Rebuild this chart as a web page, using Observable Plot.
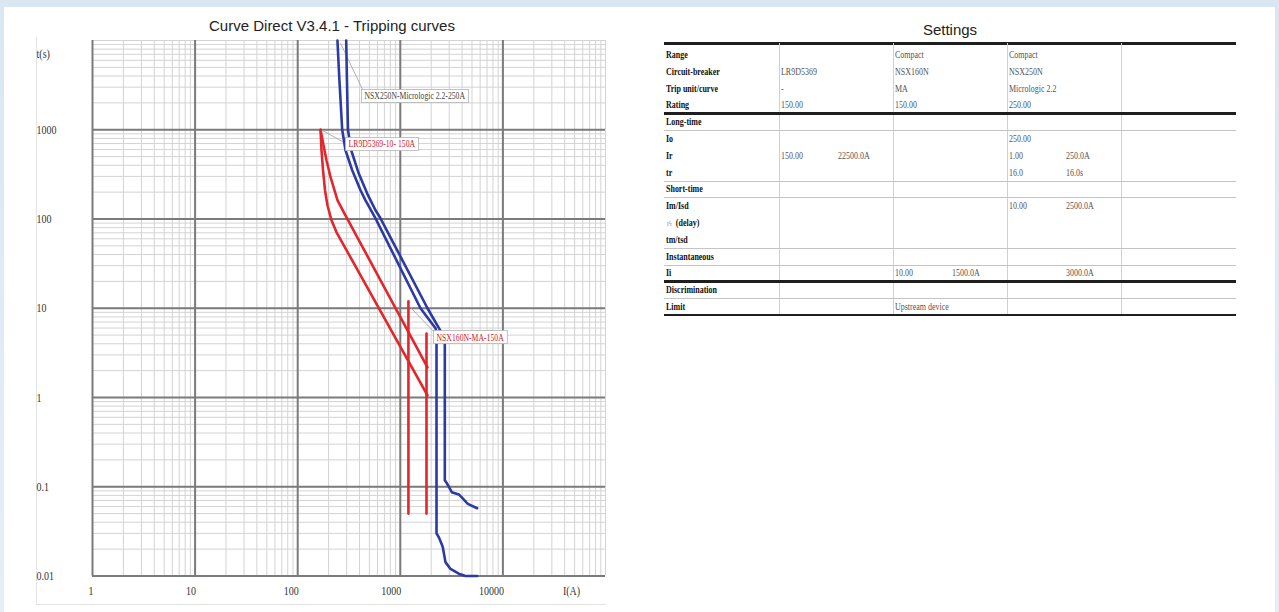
<!DOCTYPE html>
<html>
<head>
<meta charset="utf-8">
<script src="https://cdn.jsdelivr.net/npm/d3@7"></script>
<script src="https://cdn.jsdelivr.net/npm/@observablehq/plot@0.6"></script>
<style>
  html, body { margin: 0; padding: 0; }
  body {
    width: 1279px; height: 612px; overflow: hidden; position: relative;
    background: linear-gradient(180deg, #d9e7f3 0%, #e4eef7 100%);
    font-family: "Liberation Sans", Arial, sans-serif;
  }
  #panel { position: absolute; left: 4px; top: 7px; width: 1271px; height: 605px; background: #fff; }
  #frame { position: absolute; left: 36px; top: 37px; width: 569px; height: 567px;
           border-left: 1px solid #e3e3e3; border-bottom: 1px solid #e3e3e3; }
  #chart { position: absolute; left: 0; top: 0; }
  .heading { position: absolute; font-size: 15px; color: #222; white-space: nowrap;
             transform: translateX(-50%); line-height: 18px; }
  #settings { position: absolute; left: 664px; top: 0; width: 572px; height: 330px; }
  .rule { position: absolute; left: 0; width: 572px; }
  .rule.thick { height: 2.5px; background: #1e1e1e; }
  .rule.thin { height: 1px; background: #c4c4c4; }
  .vline { position: absolute; width: 1px; background: #d0d0d0; }
  .cell { position: absolute; font-family: "Liberation Serif", "Times New Roman", serif; font-size: 10.5px;
          white-space: nowrap; line-height: 12px; transform: scaleX(0.76); transform-origin: 0 50%; }
  .cell.label { font-weight: bold; color: #111; }
  .cell.value { color: #555; }
  .sup { font-weight: normal; font-size: 7px; color: #777; }
</style>
</head>
<body>
<div id="panel"></div>
<div id="frame"></div>
<div class="heading" style="left:332px; top:17px;">Curve Direct V3.4.1 - Tripping curves</div>
<div class="heading" style="left:950px; top:21px;">Settings</div>
<div id="chart"></div>
<div id="settings"></div>
<script>
// ---- Tripping curves: current I (A) and time t (s) pairs ----
const nsx250Min = [
  [244, 10000], [255, 3590], [271.5, 1000], [292.3, 589], [339.8, 351.6], [409.4, 209.8],
  [458, 162], [573.3, 101.8], [1574, 10], [2204, 5.96], [2254, 5.3], [2254, 0.030],
  [2373, 0.0272], [2523, 0.023], [2596, 0.021], [2755, 0.0143], [3085, 0.012],
  [3716, 0.0106], [4317, 0.01], [5610, 0.01]
];
const nsx250Max = [
  [297, 10000], [302, 3590], [309, 1000], [332.2, 589], [393.9, 322.8], [475.9, 192.7],
  [573.3, 125.2], [641.2, 101.8], [1841, 10], [2715, 4.6], [2715, 0.118], [2865, 0.108],
  [3177, 0.087], [3718, 0.0821], [3950, 0.0765], [4550, 0.0644], [5610, 0.0575]
];
const lr9dHot = [
  [167, 1000], [170.6, 589], [176.5, 352], [184.5, 210], [195, 142.5],
  [213.5, 96.8], [239, 71], [1841, 1.056]
];
const lr9dCold = [
  [167, 1000], [178.4, 670], [190.8, 455], [209, 294], [244.5, 162],
  [292, 110], [1841, 2.17]
];
const nsx160Low = [[1200, 12], [1200, 0.05]];
const nsx160High = [[1800, 5.2], [1800, 0.05]];

// ---- Axes ----
const majorCurrents = [1, 10, 100, 1000, 10000];
const currentLabels = ["1", "10", "100", "1000", "10000"];
const majorTimes = [0.01, 0.1, 1, 10, 100, 1000];
const timeLabels = ["0.01", "0.1", "1", "10", "100", "1000"];
const currentUnit = "I(A)";
const timeUnit = "t(s)";

// ---- Curve callouts: leader from the curve to the label ----
const calloutText = ["NSX250N-Micrologic 2.2-250A", "LR9D5369-10- 150A", "NSX160N-MA-150A"];
const calloutColor = ["#444444", "#d3202a", "#d3202a"];
const calloutFrom = [[261, 9330], [169.4, 1000], [1257, 10.2]];
const calloutTo = [[428, 2844], [292, 706], [2108, 5.51]];
const calloutAt = [[448, 2375], [313, 688], [2254, 4.72]];

// ---- Settings table ----
const settingLabels = ["Range", "Circuit-breaker", "Trip unit/curve", "Rating", "Long-time", "Io", "Ir", "tr",
  "Short-time", "Im/Isd", "I²t (delay)", "tm/tsd", "Instantaneous", "Ii", "Discrimination", "Limit"];
const settingRules = ["", "", "", "thick", "thin", "", "", "thin", "thin", "", "", "thin", "thin", "thick", "thin", "thick"];
const lr9dSettings = ["", "LR9D5369", "-", "150.00", "", "", ["150.00", "22500.0A"], "", "", "", "", "", "", "", "", ""];
const nsx160Settings = ["Compact", "NSX160N", "MA", "150.00", "", "", "", "", "", "", "", "", "", ["10.00", "1500.0A"], "", "Upstream device"];
const nsx250Settings = ["Compact", "NSX250N", "Micrologic 2.2", "250.00", "", "250.00", ["1.00", "250.0A"], ["16.0", "16.0s"],
  "", ["10.00", "2500.0A"], "", "", "", ["", "3000.0A"], "", ""];

const toRows = (pts) => pts.map(([I, t]) => ({I, t}));
const red = "#e3262b", blue = "#2c3aa6";
const serif = "Liberation Serif, Times New Roman, serif";

const callouts = calloutText.map((text, i) => ({
  text, color: calloutColor[i],
  fromI: calloutFrom[i][0], fromT: calloutFrom[i][1],
  toI: calloutTo[i][0], toT: calloutTo[i][1],
  atI: calloutAt[i][0], atT: calloutAt[i][1]
}));

const curve = (pts, stroke) => Plot.line(toRows(pts), {x: "I", y: "t", stroke, strokeWidth: 2.6, strokeLinejoin: "round"});

const chart = Plot.plot({
  width: 640, height: 612,
  marginLeft: 92, marginRight: 35, marginTop: 40, marginBottom: 36.5,
  style: {background: "transparent", overflow: "visible"},
  x: {type: "log", domain: [1, 1e5], axis: null},
  y: {type: "log", domain: [0.01, 1e4], axis: null},
  marks: [
    Plot.gridX({ticks: 30, stroke: "#d3d3d3", strokeOpacity: 1, strokeWidth: 1}),
    Plot.gridY({ticks: 30, stroke: "#d3d3d3", strokeOpacity: 1, strokeWidth: 1}),
    Plot.gridX(majorCurrents, {stroke: "#7b7b7b", strokeOpacity: 1, strokeWidth: 2}),
    Plot.gridY(majorTimes, {stroke: "#7b7b7b", strokeOpacity: 1, strokeWidth: 2}),
    Plot.link(callouts, {x1: "fromI", y1: "fromT", x2: "toI", y2: "toT", stroke: "#9c9c9c", strokeWidth: 0.8}),
    curve(lr9dHot, red),
    curve(lr9dCold, red),
    curve(nsx160Low, red),
    curve(nsx160High, red),
    curve(nsx250Min, blue),
    curve(nsx250Max, blue),
    Plot.text(majorTimes, {x: () => 1, y: (d) => d, text: (d, i) => timeLabels[i], textAnchor: "start", dx: -56,
      fontFamily: serif, fontSize: 13, fill: "#333"}),
    Plot.text([1e4], {x: () => 1, y: (d) => d, text: () => timeUnit, textAnchor: "start", dx: -56, dy: 13,
      fontFamily: serif, fontSize: 13, fill: "#333"}),
    Plot.text(majorCurrents, {x: (d) => d, y: () => 0.01, text: (d, i) => currentLabels[i], textAnchor: "end", dx: 1, dy: 15,
      fontFamily: serif, fontSize: 13, fill: "#333"}),
    Plot.text([1e5], {x: (d) => d, y: () => 0.01, text: () => currentUnit, textAnchor: "middle", dx: -34, dy: 15,
      fontFamily: serif, fontSize: 13, fill: "#333"}),
    Plot.text(callouts, {x: "atI", y: "atT", text: "text", fill: "color", textAnchor: "start",
      fontFamily: serif, fontSize: 10})
  ]
});
document.getElementById("chart").append(chart);

// Serif labels are set narrow, as in the exported report
d3.select(chart).selectAll("text").each(function() {
  const len = this.getComputedTextLength();
  this.setAttribute("textLength", (len * 0.77).toFixed(1));
  this.setAttribute("lengthAdjust", "spacingAndGlyphs");
});
// Boxes behind the callout labels (in the label's own coordinate frame)
d3.select(chart).selectAll("text").filter(function() { return calloutText.includes(this.textContent); })
  .each(function() {
    const b = this.getBBox();
    const rect = document.createElementNS("http://www.w3.org/2000/svg", "rect");
    rect.setAttribute("x", b.x - 3); rect.setAttribute("y", b.y - 1);
    rect.setAttribute("width", b.width + 6); rect.setAttribute("height", b.height + 2);
    rect.setAttribute("fill", "#fff"); rect.setAttribute("stroke", "#b4b4b4"); rect.setAttribute("stroke-width", 0.8);
    const tf = this.getAttribute("transform");
    if (tf) rect.setAttribute("transform", tf);
    this.parentNode.insertBefore(rect, this);
  });

// ---- Settings table ----
const table = document.getElementById("settings");
const rowTop = 46.6, rowH = 16.8;
const colX = [0, 115, 229, 343, 457];
const add = (cls, style, html) => {
  const el = document.createElement("div");
  el.className = cls;
  Object.assign(el.style, style);
  if (html != null) el.innerHTML = html;
  table.append(el);
  return el;
};
add("rule thick", {top: "42px"});
const lastBottom = rowTop + settingLabels.length * rowH;
colX.slice(1).forEach((x) => add("vline", {left: x + "px", top: "43px", height: (lastBottom - 43) + "px"}));
settingLabels.forEach((label, i) => {
  const top = rowTop + i * rowH;
  const cy = top + rowH / 2 - 6;
  const html = label === "I²t (delay)" ? '<span class="sup">I²t</span>&nbsp; (delay)' : label;
  add("cell label", {left: (label === "I²t (delay)" ? 3 : 2) + "px", top: cy + "px"}, html);
  [lr9dSettings, nsx160Settings, nsx250Settings].forEach((col, c) => {
    const v = col[i];
    const vals = Array.isArray(v) ? v : [v, ""];
    if (vals[0]) add("cell value", {left: (colX[c + 1] + 2) + "px", top: cy + "px"}, vals[0]);
    if (vals[1]) add("cell value", {left: (colX[c + 1] + 59) + "px", top: cy + "px"}, vals[1]);
  });
  const rule = settingRules[i];
  if (rule === "thick") add("rule thick", {top: (top + rowH - 1.5) + "px"});
  else if (rule === "thin") add("rule thin", {top: (top + rowH - 0.5) + "px"});
});
</script>
</body>
</html>
